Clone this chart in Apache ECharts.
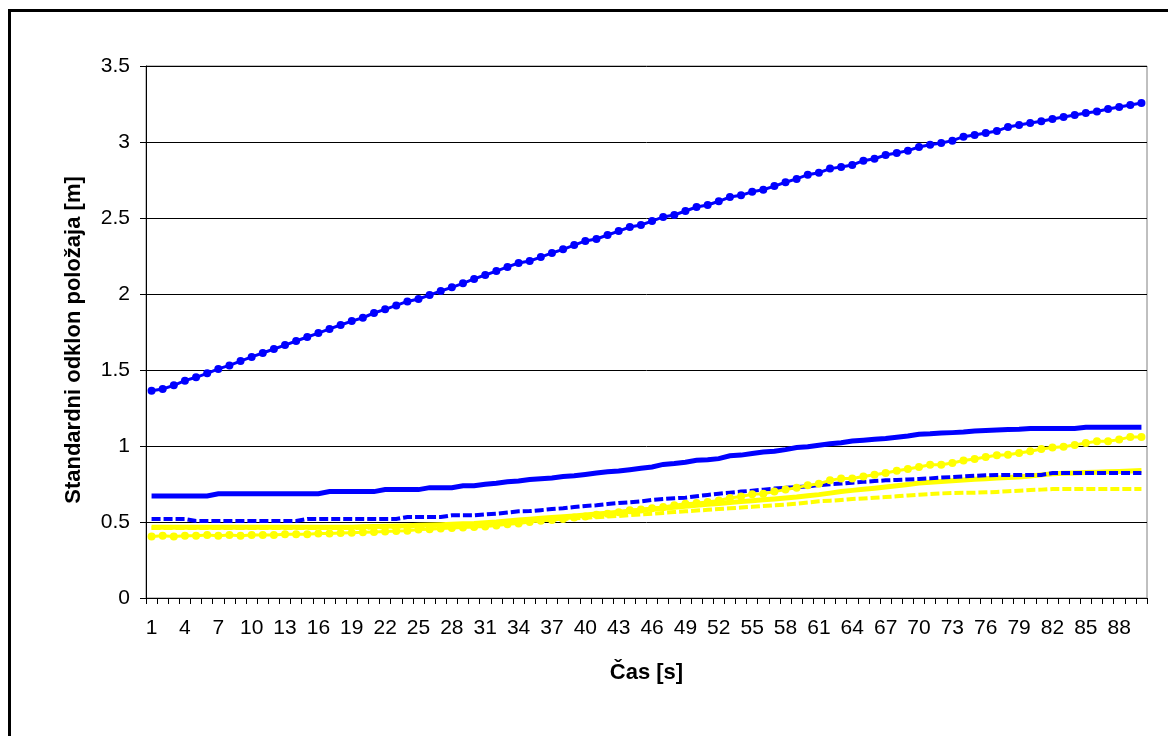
<!DOCTYPE html>
<html>
<head>
<meta charset="utf-8">
<script src="https://cdn.jsdelivr.net/npm/echarts@6/dist/echarts.min.js"></script>
<style>
html,body{margin:0;padding:0;background:#fff;}
#frame{position:absolute;left:8px;top:9px;width:1170px;height:740px;border:3px solid #000;box-sizing:border-box;}
#chart{position:absolute;left:0;top:0;width:1168px;height:736px;}
</style>
</head>
<body>
<div id="frame"></div>
<div id="chart"></div>
<script>
const categories = [];
for (let i = 1; i <= 90; i++) categories.push(String(i));

const yTicks = ['0', '0.5', '1', '1.5', '2', '2.5', '3', '3.5'];
const xTitle = 'Čas [s]';
const yTitle = 'Standardni odklon položaja [m]';

const blueDotted = [1.364,1.375,1.399,1.43,1.452,1.478,1.507,1.53,1.559,1.586,
1.612,1.638,1.664,1.691,1.717,1.743,1.77,1.796,1.822,1.844,
1.875,1.899,1.925,1.951,1.967,1.993,2.02,2.044,2.07,2.099,
2.125,2.151,2.178,2.204,2.217,2.243,2.27,2.294,2.322,2.349,
2.362,2.388,2.414,2.441,2.454,2.48,2.507,2.52,2.546,2.572,
2.586,2.61,2.638,2.649,2.673,2.686,2.71,2.735,2.757,2.785,
2.798,2.825,2.836,2.849,2.877,2.89,2.914,2.928,2.943,2.967,
2.982,2.993,3.009,3.035,3.046,3.059,3.072,3.099,3.112,3.125,
3.136,3.151,3.164,3.178,3.191,3.201,3.217,3.23,3.243,3.257];

const blueSolid = [0.671,0.671,0.671,0.671,0.671,0.671,0.686,0.686,0.686,0.686,
0.686,0.686,0.686,0.686,0.686,0.686,0.70,0.70,0.70,0.70,
0.70,0.713,0.713,0.713,0.713,0.726,0.726,0.726,0.739,0.739,
0.748,0.755,0.765,0.77,0.78,0.785,0.79,0.80,0.805,0.813,
0.822,0.83,0.835,0.844,0.853,0.862,0.879,0.885,0.893,0.906,
0.91,0.917,0.936,0.94,0.95,0.961,0.965,0.976,0.99,0.995,
1.005,1.015,1.022,1.033,1.038,1.044,1.05,1.058,1.066,1.077,
1.08,1.085,1.088,1.092,1.099,1.102,1.105,1.108,1.11,1.115,
1.115,1.115,1.115,1.115,1.123,1.123,1.123,1.123,1.123,1.123];

const blueDashed = [0.52,0.52,0.52,0.52,0.507,0.507,0.507,0.507,0.507,0.507,
0.507,0.507,0.507,0.507,0.52,0.52,0.52,0.52,0.52,0.52,
0.52,0.52,0.52,0.533,0.533,0.533,0.533,0.544,0.544,0.544,
0.55,0.555,0.562,0.57,0.572,0.578,0.585,0.59,0.598,0.605,
0.61,0.618,0.625,0.63,0.636,0.645,0.651,0.656,0.66,0.67,
0.678,0.686,0.693,0.70,0.706,0.713,0.72,0.725,0.73,0.734,
0.743,0.748,0.753,0.759,0.764,0.769,0.774,0.777,0.78,0.783,
0.787,0.792,0.796,0.80,0.804,0.807,0.81,0.81,0.81,0.81,
0.81,0.822,0.822,0.822,0.822,0.822,0.822,0.822,0.822,0.822];

const yellowDotted = [0.405,0.41,0.405,0.41,0.41,0.415,0.41,0.415,0.41,0.415,
0.415,0.415,0.42,0.42,0.42,0.425,0.425,0.428,0.43,0.432,
0.435,0.438,0.44,0.443,0.45,0.453,0.457,0.46,0.463,0.467,
0.47,0.477,0.485,0.49,0.50,0.509,0.513,0.52,0.53,0.537,
0.548,0.555,0.564,0.577,0.582,0.59,0.599,0.61,0.62,0.625,
0.632,0.642,0.658,0.668,0.682,0.686,0.70,0.713,0.726,0.741,
0.752,0.774,0.787,0.787,0.80,0.811,0.822,0.837,0.849,0.862,
0.877,0.877,0.888,0.904,0.915,0.928,0.939,0.943,0.954,0.965,
0.98,0.99,0.995,1.007,1.02,1.031,1.031,1.042,1.06,1.06];

const yellowSolid = [0.465,0.465,0.465,0.465,0.465,0.465,0.465,0.465,0.465,0.465,
0.465,0.465,0.465,0.465,0.465,0.465,0.465,0.465,0.465,0.468,
0.47,0.472,0.474,0.476,0.478,0.48,0.482,0.485,0.488,0.49,
0.495,0.50,0.507,0.513,0.518,0.524,0.53,0.535,0.54,0.546,
0.552,0.558,0.564,0.57,0.577,0.585,0.59,0.597,0.603,0.61,
0.616,0.622,0.628,0.634,0.64,0.646,0.652,0.658,0.664,0.672,
0.68,0.69,0.70,0.708,0.715,0.722,0.73,0.738,0.746,0.757,
0.762,0.767,0.772,0.776,0.781,0.785,0.789,0.792,0.796,0.803,
0.81,0.818,0.82,0.823,0.826,0.828,0.83,0.833,0.836,0.838];

const yellowDashed = [0.46,0.46,0.46,0.46,0.46,0.46,0.46,0.46,0.46,0.46,
0.46,0.46,0.46,0.46,0.46,0.46,0.46,0.46,0.46,0.462,
0.464,0.466,0.468,0.47,0.472,0.474,0.476,0.478,0.479,0.48,
0.485,0.49,0.495,0.50,0.505,0.51,0.515,0.52,0.524,0.528,
0.532,0.536,0.54,0.545,0.55,0.555,0.56,0.565,0.57,0.575,
0.58,0.585,0.59,0.595,0.60,0.605,0.61,0.615,0.62,0.628,
0.636,0.64,0.645,0.651,0.655,0.66,0.664,0.669,0.675,0.68,
0.684,0.688,0.691,0.692,0.693,0.695,0.698,0.702,0.706,0.71,
0.713,0.717,0.717,0.717,0.717,0.717,0.717,0.717,0.717,0.717];

const BLUE = '#0000ff';
const YELLOW = '#ffff00';
const FONT = 'Liberation Sans, Arial, sans-serif';

function lineSeries(name, data, color, width, dash, marker, z) {
  return {
    name: name, type: 'line', data: data, z: z,
    symbol: marker ? 'circle' : 'none',
    symbolSize: marker ? 8 : 0,
    showSymbol: !!marker,
    showAllSymbol: true,
    itemStyle: { color: color, borderWidth: 0 },
    lineStyle: { color: color, width: width, type: dash || 'solid', cap: 'butt', join: 'miter' },
    emphasis: { disabled: true },
    animation: false
  };
}

const chart = echarts.init(document.getElementById('chart'), null, { renderer: 'canvas' });
chart.setOption({
  animation: false,
  backgroundColor: 'transparent',
  textStyle: { fontFamily: FONT },
  grid: { left: 146, top: 66, right: 21, bottom: 138, show: true, borderColor: '#808080', borderWidth: 1, backgroundColor: 'transparent' },
  graphic: [{
    type: 'text',
    x: 74, y: 340,
    rotation: Math.PI / 2,
    style: { text: yTitle, font: 'bold 22px ' + FONT, fill: '#000', align: 'center', verticalAlign: 'middle' }
  }],
  xAxis: {
    type: 'category',
    data: categories,
    boundaryGap: true,
    name: xTitle,
    nameLocation: 'middle',
    nameGap: 64,
    nameTextStyle: { fontSize: 22, fontWeight: 'bold', color: '#000', fontFamily: FONT },
    axisLine: { lineStyle: { color: '#000', width: 1 } },
    axisTick: { show: true, interval: 0, length: 6, lineStyle: { color: '#000' }, alignWithLabel: false },
    axisLabel: { interval: 2, fontSize: 21, color: '#000', margin: 20, fontFamily: FONT },
    splitLine: { show: false }
  },
  yAxis: {
    type: 'value',
    min: 0, max: 3.5, interval: 0.5,
    axisLine: { show: true, lineStyle: { color: '#000', width: 1 } },
    axisTick: { show: true, length: 6, lineStyle: { color: '#000' } },
    axisLabel: { fontSize: 21, color: '#000', margin: 16, fontFamily: FONT,
      formatter: function (v) { return yTicks[Math.round(v / 0.5)]; } },
    splitLine: { show: true, lineStyle: { color: '#000', width: 1 } }
  },
  series: [
    lineSeries('Yellow solid', yellowSolid, YELLOW, 5, 'solid', false, 2),
    lineSeries('Yellow dashed', yellowDashed, YELLOW, 4, [9, 3], false, 2),
    lineSeries('Blue dotted', blueDotted, BLUE, 3, 'solid', true, 3),
    lineSeries('Blue solid', blueSolid, BLUE, 5, 'solid', false, 3),
    lineSeries('Blue dashed', blueDashed, BLUE, 4, [9, 3], false, 3),
    lineSeries('Yellow dotted', yellowDotted, YELLOW, 3, 'solid', true, 4)
  ]
});
</script>
</body>
</html>
